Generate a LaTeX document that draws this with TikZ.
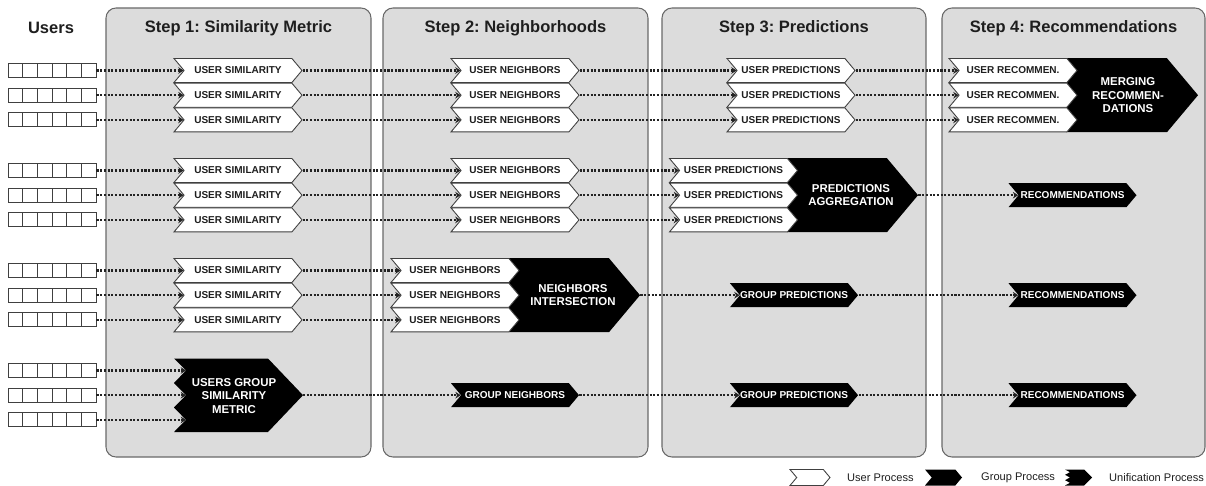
\documentclass[tikz,border=0pt]{standalone}
\usepackage{fontspec}
\setmainfont{Liberation Sans}
\usetikzlibrary{shapes.symbols,arrows.meta}
\definecolor{panel_gray}{RGB}{220,220,220}
\definecolor{edge_gray}{RGB}{105,105,105}
\definecolor{line_gray}{RGB}{35,35,35}
\definecolor{text_gray}{RGB}{30,30,30}
\newcommand\chevfont{\fontsize{5.7}{6.5}\selectfont\bfseries}
\newcommand\bigfont{\fontsize{6.5}{7.8}\selectfont\bfseries}
\newcommand\headfont{\fontsize{9.4}{11}\selectfont\bfseries}
\newcommand\legfont{\fontsize{6.3}{7.5}\selectfont}
\frenchspacing

\begin{document}
\begin{tikzpicture}[x=0.02cm,y=-0.02cm]
    \tikzstyle{panel}=[draw=edge_gray, fill=panel_gray, rounded corners=0.2cm, line width=0.6pt]
    \tikzstyle{head}=[font=\headfont, text=text_gray]
    \tikzstyle{proc}=[shape=signal, signal to=east, signal from=west, signal pointer angle=100, minimum width=2.56cm, minimum height=0.48cm, inner sep=0pt, font=\chevfont]
    \tikzstyle{up}=[proc, draw=black!75, fill=white, text=text_gray, line width=0.5pt]
    \tikzstyle{gp}=[proc, fill=black, text=white]
    \tikzstyle{merge}=[shape=signal, signal to=east, signal pointer angle=100, minimum width=2.62cm, minimum height=1.48cm, inner sep=0pt, fill=black]
    \tikzstyle{mergetxt}=[text=white, font=\bigfont, align=center]
    \tikzstyle{users}=[draw=black!75, fill=white, minimum width=1.76cm, minimum height=0.28cm, inner sep=0pt, line width=0.5pt,
        path picture={\foreach \k in {1,...,5} \draw[black!75, line width=0.5pt] ([xshift=\k*0.2933cm]path picture bounding box.south west) -- ([xshift=\k*0.2933cm]path picture bounding box.north west);}]
    \tikzstyle{flow}=[line_gray, line width=1.3pt, dash pattern=on 1.2pt off 0.9pt, -{Stealth[length=3pt,width=3.8pt]}]

    \useasboundingbox (0,0) rectangle (1206,486);

    % steps
    \draw[panel] (106,8) rectangle (371,457);
    \draw[panel] (383,8) rectangle (648,457);
    \draw[panel] (662,8) rectangle (926,457);
    \draw[panel] (942,8) rectangle (1205,457);
    \node[head] (tu) at (51,28)     {Users};
    \node[head] (t1) at (238.5,28)  {Step 1: Similarity Metric};
    \node[head] (t2) at (515.5,28)  {Step 2: Neighborhoods};
    \node[head] (t3) at (794,28)    {Step 3: Predictions};
    \node[head] (t4) at (1073.5,28) {Step 4: Recommendations};

    % group processes behind the user ones
    \node[merge, minimum width=2.64cm] (mrg) at (1116.5,95.2) {};
    \node[merge] (agg) at (837,195.2) {};
    \node[merge] (isc) at (559,295.2) {};
    \node[mergetxt] (mrgt) at (1128,95.2)  {MERGING\\RECOMMEN-\\DATIONS};
    \node[mergetxt] (aggt) at (851,195.2)  {PREDICTIONS\\AGGREGATION};
    \node[mergetxt] (isct) at (573,295.2)  {NEIGHBORS\\INTERSECTION};
    \fill (174,358.5) -- (186,370.5) -- (174,383) -- (186,395.2) -- (174,407.5) -- (186,419.9) -- (174,432)
        -- (268,432) -- (303,395.2) -- (268,358.5) -- cycle;
    \node[mergetxt] (ugs) at (234,396) {USERS GROUP\\SIMILARITY\\METRIC};
    \coordinate (ugs10) at (186,370.5);
    \coordinate (ugs11) at (186,395.2);
    \coordinate (ugs12) at (186,419.9);
    \coordinate (ugstip) at (303,395.2);

    % users
    \foreach \i/\y in {1/70.5,2/95.2,3/119.9,4/170.5,5/195.2,6/219.9,7/270.5,8/295.2,9/319.9,10/370.5,11/395.2,12/419.9}
        \node[users] (u\i) at (52,\y) {};

    % user processes
    \foreach \i/\y in {1/70.5,2/95.2,3/119.9,4/170.5,5/195.2,6/219.9,7/270.5,8/295.2,9/319.9}
        \node[up] (sim\i) at (238,\y) {USER SIMILARITY};
    \foreach \i/\y in {1/70.5,2/95.2,3/119.9,4/170.5,5/195.2,6/219.9}
        \node[up] (nbr\i) at (515,\y) {USER NEIGHBORS};
    \foreach \i/\y in {7/270.5,8/295.2,9/319.9}
        \node[up] (nbr\i) at (455,\y) {USER NEIGHBORS};
    \foreach \i/\y in {1/70.5,2/95.2,3/119.9}
        \node[up] (prd\i) at (791,\y) {USER PREDICTIONS};
    \foreach \i/\y in {4/170.5,5/195.2,6/219.9}
        \node[up] (prd\i) at (733.5,\y) {USER PREDICTIONS};
    \foreach \i/\y in {1/70.5,2/95.2,3/119.9}
        \node[up] (rec\i) at (1013,\y) {USER RECOMMEN.};

    % group processes
    \node[gp] (gnb11) at (515,395.2)    {GROUP NEIGHBORS};
    \node[gp] (gpr8)  at (794,295.2)    {GROUP PREDICTIONS};
    \node[gp] (gpr11) at (794,395.2)    {GROUP PREDICTIONS};
    \node[gp] (grc5)  at (1072.5,195.2) {RECOMMENDATIONS};
    \node[gp] (grc8)  at (1072.5,295.2) {RECOMMENDATIONS};
    \node[gp] (grc11) at (1072.5,395.2) {RECOMMENDATIONS};

    % flows
    \foreach \i in {1,...,9}
        \draw[flow] (u\i.east) -- (sim\i.west);
    \foreach \i in {1,...,9}
        \draw[flow] (sim\i.east) -- (nbr\i.west);
    \foreach \i in {1,...,6}
        \draw[flow] (nbr\i.east) -- (prd\i.west);
    \foreach \i in {1,2,3}
        \draw[flow] (prd\i.east) -- (rec\i.west);
    \foreach \i in {10,11,12}
        \draw[flow] (u\i.east) -- (ugs\i);
    \draw[flow] (agg.east) -- (grc5.west);
    \draw[flow] (isc.east) -- (gpr8.west);
    \draw[flow] (gpr8.east) -- (grc8.west);
    \draw[flow] (ugstip) -- (gnb11.west);
    \draw[flow] (gnb11.east) -- (gpr11.west);
    \draw[flow] (gpr11.east) -- (grc11.west);

    % legend
    \node[up, minimum width=0.8cm, minimum height=0.32cm] (lup) at (810,477.5) {};
    \node[anchor=west, font=\legfont, text=text_gray] (lupt) at (841,477.5) {User Process};
    \node[gp, minimum width=0.74cm, minimum height=0.32cm] (lgp) at (943.5,477.5) {};
    \node[anchor=west, font=\legfont, text=text_gray] (lgpt) at (975,477.5) {Group Process};
    \fill (1065,469.5) -- (1070,472.2) -- (1065,474.8) -- (1070,477.5) -- (1065,480.2) -- (1070,482.8) -- (1065,485.5)
        -- (1084,485.5) -- (1092,477.5) -- (1084,469.5) -- cycle;
    \node[anchor=west, font=\legfont, text=text_gray] (lunt) at (1103,477.5) {Unification Process};
\end{tikzpicture}
\end{document}
